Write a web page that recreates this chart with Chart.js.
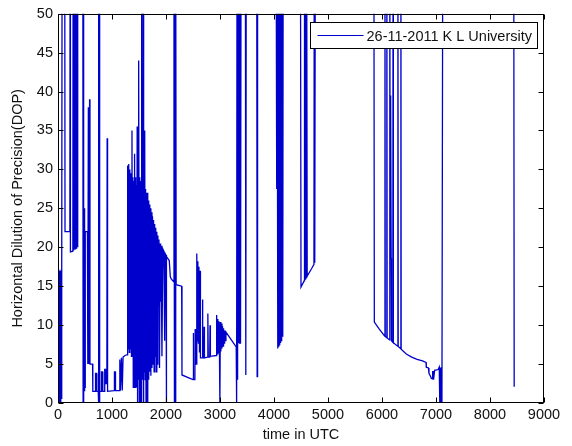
<!DOCTYPE html>
<html>
<head>
<meta charset="utf-8">
<script src="https://cdn.jsdelivr.net/npm/chart.js@4.4.0/dist/chart.umd.min.js"></script>
<style>
  html, body { margin: 0; padding: 0; background: #fff; }
  #wrap { width: 572px; height: 446px; }
</style>
</head>
<body>
<div id="wrap"><canvas id="dopChart" width="572" height="446"></canvas></div>
<script>
const seriesLabel = '26-11-2011 K L University';
const xTicks = [0, 1000, 2000, 3000, 4000, 5000, 6000, 7000, 8000, 9000];
const yTicks = [0, 5, 10, 15, 20, 25, 30, 35, 40, 45, 50];

// time (s, UTC) and HDOP; 60 = off the top of the axes
const timeUtc = [
  0, 6, 12, 18, 24, 30, 36, 42, 48, 54, 60, 66, 72, 76, 125, 130, 220, 224, 230, 275,
  280, 285, 290, 295, 300, 305, 310, 315, 320, 325, 330, 335, 340, 345, 350, 355, 360, 365, 370, 460,
  465, 472, 478, 485, 490, 495, 500, 505, 545, 552, 562, 568, 585, 592, 640, 645,
  690, 695, 715, 720, 745, 750, 755, 762, 768, 775, 800, 805, 825, 830, 860, 865, 880, 885, 905, 910, 918,
  1040, 1045, 1060, 1065, 1140, 1145, 1155, 1175, 1190, 1205, 1240, 1285,
  1290, 1300, 1310, 1320, 1330, 1340, 1350, 1360, 1370, 1378, 1386, 1394, 1402, 1410, 1418, 1426, 1434, 1442, 1450, 1458,
  1466, 1474, 1482, 1490, 1498, 1506, 1514, 1522, 1530, 1538, 1546, 1552, 1560, 1568, 1576, 1582, 1590, 1598, 1606, 1614,
  1622, 1630, 1638, 1646, 1654, 1662, 1670, 1680, 1690, 1700, 1710, 1720, 1730, 1740, 1750, 1760, 1770, 1780, 1790, 1800,
  1810, 1820, 1830, 1840, 1850, 1860, 1870, 1880, 1890, 1900, 1910, 1925, 1940, 1960, 1975, 1985, 2000, 2005, 2012, 2060,
  2080, 2100, 2140, 2148, 2156, 2164, 2172, 2180, 2188, 2290, 2296, 2400, 2500, 2505, 2512, 2535, 2540, 2548, 2565,
  2570, 2580, 2590, 2600, 2610, 2620, 2630, 2638, 2670, 2675, 2683, 2700, 2705, 2712, 2770, 2775, 2783, 2810, 2815, 2822,
  2930, 2938, 2946, 2960, 2970, 2980, 2990, 2998, 3006, 3016, 3026, 3036, 3046, 3056, 3066, 3076, 3086, 3096, 3110, 3300,
  3308, 3315, 3322, 3330, 3340, 3350, 3360, 3370, 3380, 3390, 3470, 3478, 3486, 3680, 3688, 3696,
  4040, 4050, 4058, 4066, 4074, 4082, 4090, 4098, 4106, 4114, 4122, 4130, 4138, 4146, 4154, 4162, 4170,
  4490, 4500, 4560, 4565, 4575, 4585, 4595, 4605, 4615, 4700, 4740, 4745, 4755, 4765,
  5850, 5858, 5950, 6050, 6055, 6060, 6085, 6090, 6095, 6140, 6145, 6150, 6155, 6160, 6165, 6170, 6175, 6200, 6205, 6210,
  6290, 6295, 6300, 6345, 6350, 6355, 6450, 6550, 6650, 6750, 6815, 6820, 6860, 6870, 6900, 6910, 6930, 6935, 6940, 6945,
  6950, 6960, 6975, 7040, 7060, 7070, 7080, 7090, 7100, 7110, 7125, 8440, 8448
];
const hdop = [
  17, 0, 17.2, 0, 17, 0, 16.8, 0, 17, 0, 17.1, 0.5, 17, 60, 60, 22, 22, 60, 19.4, 19.5,
  60, 19.6, 60, 19.6, 60, 19.7, 60, 19.8, 60, 19.8, 60, 19.9, 60, 20, 60, 20.1, 60, 20.2, 60, 60,
  0, 60, 0, 25, 1.5, 22.5, 2, 22, 22, 5, 38, 5, 39, 5, 5, 1.5,
  1.5, 3.8, 3.8, 1.5, 1.5, 0, 60, 0, 60, 1.5, 1.5, 4, 4, 1.5, 1.5, 4.3, 4.3, 2.5, 2.5, 34, 1.5,
  1.6, 4, 4, 1.6, 1.6, 5.6, 1.6, 5.8, 1.6, 5.9, 6.1, 6.2,
  30.5, 7, 30.7, 6.5, 30, 7, 29.5, 6, 35, 6, 29, 2, 28.5, 5, 32, 2, 29, 6, 28, 2,
  35.5, 0, 29, 3, 44, 0, 29, 5, 28.5, 0, 60, 0, 39, 3, 60, 0, 28, 4, 35, 3,
  27.5, 0, 27, 2, 27, 0, 26, 3, 25.5, 4, 25, 3.5, 24.5, 4.5, 24, 5, 23.5, 4, 23, 6,
  22.5, 4, 22, 5, 21.5, 12.5, 21, 4.5, 20.5, 13, 20.2, 6, 19.8, 19.5, 8, 19.2, 19, 0, 18.8, 18.3,
  16.2, 15.9, 15.6, 60, 0, 60, 0, 60, 15.2, 15, 3.6, 3.3, 3, 9, 3, 3, 9.5, 5, 5,
  19.2, 8, 18.2, 7.7, 17.5, 6.5, 17, 5.8, 5.8, 13.3, 5.8, 5.8, 9.8, 5.8, 5.9, 11.5, 5.9, 5.9, 10, 6,
  6.1, 11.3, 6.3, 10.8, 6.5, 10.5, 6.4, 0, 10.4, 6.6, 10.2, 7, 9.9, 7.3, 9.6, 7.7, 9.3, 8, 9.1, 7.2,
  0, 60, 3, 60, 7.8, 60, 7.7, 60, 7.6, 60, 60, 3.6, 60, 60, 3.4, 60,
  60, 27.5, 60, 7, 60, 7.3, 60, 7.5, 60, 7.8, 60, 8, 60, 8.2, 60, 8.5, 60,
  60, 14.9, 15.7, 60, 15.9, 60, 16.1, 60, 16.3, 17.3, 17.8, 60, 18, 60,
  60, 10.4, 9.5, 8.6, 60, 8.55, 8.4, 60, 8.35, 8.1, 60, 18.6, 39.5, 18.6, 39.5, 18.6, 8, 7.8, 60, 7.75,
  7.3, 60, 7.25, 7, 60, 6.9, 6.3, 5.9, 5.6, 5.4, 5.2, 4.6, 4.5, 3.8, 3.4, 3.2, 3.1, 4.1, 3.2, 4.1,
  3.1, 3, 4.2, 4.3, 4.6, 0, 4.5, 0, 4.6, 0, 60, 60, 2.1
];

const lineBlue = 'rgb(0, 0, 205)';
const textColor = '#111';
const axisFont = { family: '"Liberation Sans", Arial, sans-serif', size: 14.5 };

// MATLAB style box: frame, inward ticks on all sides, legend inside top right
const matlabBox = {
  id: 'matlabBox',
  afterDraw(chart) {
    const { ctx, chartArea: a, scales: { x, y } } = chart;
    const L = Math.round(a.left) + 0.5;
    const R = Math.round(a.right) - 0.5;
    const T = Math.round(a.top) + 0.5;
    const B = Math.round(a.bottom) - 0.5;
    const len = 5;

    ctx.save();
    ctx.strokeStyle = '#000';
    ctx.lineWidth = 1;
    ctx.strokeRect(L, T, R - L, B - T);

    ctx.beginPath();
    xTicks.forEach(v => {
      const px = Math.round(x.getPixelForValue(v)) + 0.5;
      ctx.moveTo(px, B); ctx.lineTo(px, B - len);
      ctx.moveTo(px, T); ctx.lineTo(px, T + len);
    });
    yTicks.forEach(v => {
      const py = Math.round(y.getPixelForValue(v)) + 0.5;
      ctx.moveTo(L, py); ctx.lineTo(L + len, py);
      ctx.moveTo(R, py); ctx.lineTo(R - len, py);
    });
    ctx.stroke();

    // legend
    ctx.font = axisFont.size + 'px ' + axisFont.family;
    const textW = ctx.measureText(seriesLabel).width;
    const boxW = Math.round(textW + 62);
    const boxH = 26;
    const bx = R - 6 - boxW;
    const by = T + 8;
    ctx.fillStyle = '#fff';
    ctx.fillRect(bx, by, boxW, boxH);
    ctx.strokeRect(bx, by, boxW, boxH);
    ctx.strokeStyle = lineBlue;
    ctx.beginPath();
    ctx.moveTo(bx + 7, by + boxH / 2);
    ctx.lineTo(bx + 53, by + boxH / 2);
    ctx.stroke();
    ctx.fillStyle = textColor;
    ctx.textBaseline = 'middle';
    ctx.textAlign = 'left';
    ctx.fillText(seriesLabel, bx + 56, by + boxH / 2 + 1);
    ctx.restore();
  }
};

const ctx = document.getElementById('dopChart').getContext('2d');

new Chart(ctx, {
  type: 'line',
  data: {
    datasets: [{
      label: seriesLabel,
      data: timeUtc.map((t, i) => ({ x: t, y: hdop[i] })),
      borderColor: lineBlue,
      borderWidth: 1.3,
      pointRadius: 0,
      tension: 0,
      fill: false,
      clip: 0
    }]
  },
  options: {
    responsive: false,
    animation: false,
    layout: { padding: { top: 13, right: 28, left: 0, bottom: 0 } },
    plugins: {
      legend: { display: false },
      tooltip: { enabled: false }
    },
    scales: {
      x: {
        type: 'linear',
        min: 0,
        max: 9000,
        grid: { display: false, drawTicks: false },
        border: { display: false },
        ticks: {
          stepSize: 1000, autoSkip: false, maxRotation: 0, padding: 3,
          color: textColor, font: axisFont,
          callback: v => String(v)
        },
        title: { display: true, text: 'time in UTC', color: textColor, font: axisFont, padding: { top: 0, bottom: 2 } },
        afterFit: s => { s.height = 43; }
      },
      y: {
        min: 0,
        max: 50,
        grid: { display: false, drawTicks: false },
        border: { display: false },
        ticks: { stepSize: 5, autoSkip: false, padding: 5, color: textColor, font: axisFont },
        title: { display: true, text: 'Horizontal Dilution of Precision(DOP)', color: textColor, font: axisFont, padding: { top: 9, bottom: 0 } },
        afterFit: s => { s.width = 58; }
      }
    }
  },
  plugins: [matlabBox]
});
</script>
</body>
</html>
